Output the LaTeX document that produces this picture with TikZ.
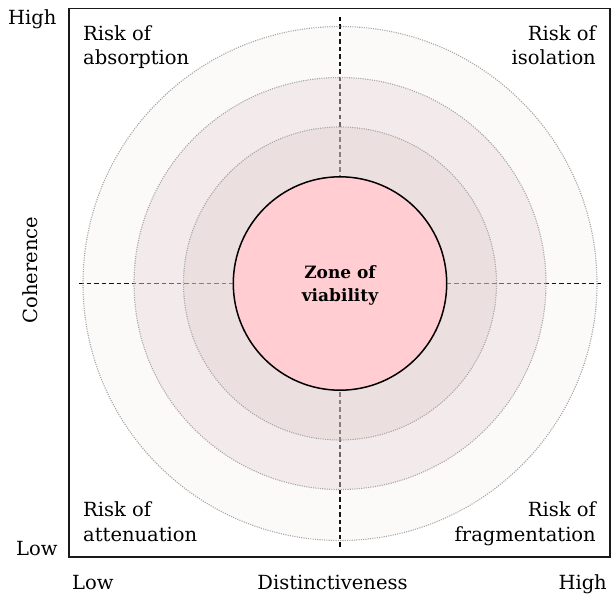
\documentclass[tikz,border=0pt]{standalone}
\usepackage{fontspec}
\setmainfont{DejaVu Serif}
\definecolor{ringA}{RGB}{225,205,195}
\definecolor{ringB}{RGB}{231,214,216}
\definecolor{ringC}{RGB}{218,192,192}
\definecolor{zonefill}{RGB}{255,205,210}
\definecolor{framecol}{RGB}{26,26,26}
\begin{document}
\begin{tikzpicture}[x=1pt,y=-1pt,
  lbl/.style={inner sep=0pt, font=\fontsize{19.5}{24.5}\selectfont},
  zonelbl/.style={inner sep=0pt, align=center, font=\fontsize{17}{23.5}\selectfont\bfseries},
  axisline/.style={line width=1.8pt, dash pattern=on 4.5pt off 3pt, black},
  ringline/.style={draw=black!35, line width=1.1pt, dash pattern=on 1.1pt off 1.2pt},
  framebox/.style={draw=framecol, line width=1.8pt}
]
\useasboundingbox (0,0) rectangle (611,594);
% frame
\draw[framebox] (69,8.5) rectangle (609.8,557);
% centre and axis ends
\coordinate (c) at (340,283.5);
\coordinate (axL) at (79,283.5);
\coordinate (axR) at (603,283.5);
\coordinate (axT) at (340,17);
\coordinate (axB) at (340,548);
\draw[axisline] (axL) -- (axR);
\draw[axisline] (axT) -- (axB);
% rings
\fill[ringA, fill opacity=0.10] (c) circle[radius=257];
\fill[ringB, fill opacity=0.42] (c) circle[radius=206];
\fill[ringC, fill opacity=0.28] (c) circle[radius=156.5];
\draw[ringline] (c) circle[radius=257];
\draw[ringline] (c) circle[radius=206];
\draw[ringline] (c) circle[radius=156.5];
% zone of viability
\draw[fill=zonefill, draw=black, line width=1.5pt] (c) circle[radius=106.7];
\node[zonelbl, anchor=base] (zone) at (340,301.5) {Zone of\\viability};
% quadrant labels
\node[lbl, align=left, anchor=base west] (absorp) at (83,65) {Risk of\\absorption};
\node[lbl, align=right, anchor=base east] (isol) at (596,65) {Risk of\\isolation};
\node[lbl, align=left, anchor=base west] (atten) at (83,541) {Risk of\\attenuation};
\node[lbl, align=right, anchor=base east] (frag) at (596,541) {Risk of\\fragmentation};
% axis labels
\node[lbl, anchor=base west] (yhigh) at (8,25) {High};
\node[lbl, anchor=base west] (ylow) at (16,555) {Low};
\node[lbl, anchor=base, rotate=90] (ytitle) at (37,270) {Coherence};
\node[lbl, anchor=base west] (xlow) at (72,589) {Low};
\node[lbl, anchor=base] (xtitle) at (332.5,589) {Distinctiveness};
\node[lbl, anchor=base east] (xhigh) at (607,589) {High};
\end{tikzpicture}
\end{document}
